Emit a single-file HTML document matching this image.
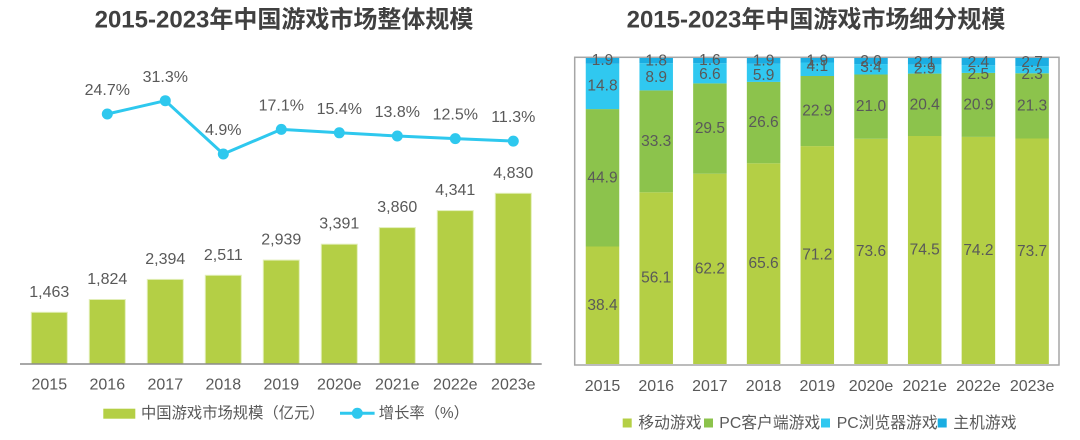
<!DOCTYPE html>
<html>
<head>
<meta charset="utf-8">
<style>
html,body{margin:0;padding:0;background:#fff;}
svg{display:block;}
text{font-family:"Liberation Sans","Noto Sans CJK SC",sans-serif;fill:#595959;dominant-baseline:central;}
.t{font-weight:bold;fill:#404040;font-size:24px;font-family:"Liberation Sans","Noto Sans CJK SC",sans-serif;}
.v{font-size:16px;text-anchor:middle;}
.s{font-size:15.5px;text-anchor:middle;}
</style>
</head>
<body>
<svg width="1080" height="440" viewBox="0 0 1080 440" xmlns="http://www.w3.org/2000/svg">
<!-- Titles -->
<text class="t" x="284" y="20" text-anchor="middle">2015-2023年中国游戏市场整体规模</text>
<text class="t" x="816" y="20" text-anchor="middle">2015-2023年中国游戏市场细分规模</text>

<!-- LEFT CHART -->
<g fill="#b4cf45" stroke="#e2eeb8" stroke-width="1">
<rect x="31.3" y="312.3" width="36" height="51.7"/>
<rect x="89.3" y="299.5" width="36" height="64.5"/>
<rect x="147.3" y="279.4" width="36" height="84.6"/>
<rect x="205.3" y="275.3" width="36" height="88.7"/>
<rect x="263.3" y="260.1" width="36" height="103.9"/>
<rect x="321.3" y="244.2" width="36" height="119.8"/>
<rect x="379.3" y="227.6" width="36" height="136.4"/>
<rect x="437.3" y="210.6" width="36" height="153.4"/>
<rect x="495.3" y="193.3" width="36" height="170.7"/>
</g>
<line x1="20" y1="364" x2="541.7" y2="364" stroke="#8c8c8c" stroke-width="1.5"/>
<g class="v">
<text class="v" x="49.3" y="292.3">1,463</text>
<text class="v" x="107.3" y="279.5">1,824</text>
<text class="v" x="165.3" y="259.4">2,394</text>
<text class="v" x="223.3" y="255.3">2,511</text>
<text class="v" x="281.3" y="240.1">2,939</text>
<text class="v" x="339.3" y="224.2">3,391</text>
<text class="v" x="397.3" y="207.6">3,860</text>
<text class="v" x="455.3" y="190.6">4,341</text>
<text class="v" x="513.3" y="173.3">4,830</text>
</g>
<!-- growth line -->
<polyline points="107.3,114 165.3,100.7 223.3,154 281.3,129.4 339.3,132.8 397.3,136 455.3,138.6 513.3,141.1" fill="none" stroke="#2ec8ee" stroke-width="3" stroke-linejoin="round"/>
<g fill="#2ec8ee">
<circle cx="107.3" cy="114" r="5.5"/>
<circle cx="165.3" cy="100.7" r="5.5"/>
<circle cx="223.3" cy="154" r="5.5"/>
<circle cx="281.3" cy="129.4" r="5.5"/>
<circle cx="339.3" cy="132.8" r="5.5"/>
<circle cx="397.3" cy="136" r="5.5"/>
<circle cx="455.3" cy="138.6" r="5.5"/>
<circle cx="513.3" cy="141.1" r="5.5"/>
</g>
<text class="v" x="107.3" y="90.6">24.7%</text>
<text class="v" x="165.3" y="77.3">31.3%</text>
<text class="v" x="223.3" y="130.6">4.9%</text>
<text class="v" x="281.3" y="106">17.1%</text>
<text class="v" x="339.3" y="109.3">15.4%</text>
<text class="v" x="397.3" y="112.6">13.8%</text>
<text class="v" x="455.3" y="115.1">12.5%</text>
<text class="v" x="513.3" y="117.6">11.3%</text>
<!-- x labels left -->
<text class="v" x="49.3" y="385">2015</text>
<text class="v" x="107.3" y="385">2016</text>
<text class="v" x="165.3" y="385">2017</text>
<text class="v" x="223.3" y="385">2018</text>
<text class="v" x="281.3" y="385">2019</text>
<text class="v" x="339.3" y="385">2020e</text>
<text class="v" x="397.3" y="385">2021e</text>
<text class="v" x="455.3" y="385">2022e</text>
<text class="v" x="513.3" y="385">2023e</text>
<!-- legend left -->
<rect x="103.3" y="408.7" width="32" height="10" fill="#b4cf45"/>
<text x="141" y="413.3" style="font-size:15.3px">中国游戏市场规模（亿元）</text>
<line x1="340" y1="413.3" x2="374.6" y2="413.3" stroke="#2ec8ee" stroke-width="3"/>
<circle cx="357.3" cy="413.3" r="5.5" fill="#2ec8ee"/>
<text x="378.8" y="413.3" style="font-size:15.3px">增长率（%）</text>

<!-- RIGHT CHART -->
<rect x="574.7" y="57.3" width="484.3" height="307.7" fill="none" stroke="#a6a6a6" stroke-width="1.5"/>
<!-- mobile -->
<g fill="#b4cf45">
<rect x="585.75" y="246.5" width="33.5" height="117.5"/>
<rect x="639.45" y="192.3" width="33.5" height="171.7"/>
<rect x="693.15" y="173.7" width="33.5" height="190.3"/>
<rect x="746.85" y="163.3" width="33.5" height="200.7"/>
<rect x="800.55" y="146.1" width="33.5" height="217.9"/>
<rect x="854.25" y="138.8" width="33.5" height="225.2"/>
<rect x="907.95" y="136.0" width="33.5" height="228.0"/>
<rect x="961.65" y="136.9" width="33.5" height="227.1"/>
<rect x="1015.35" y="138.5" width="33.5" height="225.5"/>
</g>
<!-- PC client -->
<g fill="#8cc34c">
<rect x="585.75" y="109.1" width="33.5" height="137.4"/>
<rect x="639.45" y="90.4" width="33.5" height="101.9"/>
<rect x="693.15" y="83.4" width="33.5" height="90.3"/>
<rect x="746.85" y="81.9" width="33.5" height="81.4"/>
<rect x="800.55" y="76.0" width="33.5" height="70.1"/>
<rect x="854.25" y="74.5" width="33.5" height="64.3"/>
<rect x="907.95" y="73.6" width="33.5" height="62.4"/>
<rect x="961.65" y="72.9" width="33.5" height="64.0"/>
<rect x="1015.35" y="73.3" width="33.5" height="65.2"/>
</g>
<!-- PC browser -->
<g fill="#30c8f0">
<rect x="585.75" y="63.8" width="33.5" height="45.3"/>
<rect x="639.45" y="63.2" width="33.5" height="27.2"/>
<rect x="693.15" y="63.2" width="33.5" height="20.2"/>
<rect x="746.85" y="63.8" width="33.5" height="18.1"/>
<rect x="800.55" y="62.5" width="33.5" height="13.5"/>
<rect x="854.25" y="64.1" width="33.5" height="10.4"/>
<rect x="907.95" y="64.7" width="33.5" height="8.9"/>
<rect x="961.65" y="65.3" width="33.5" height="7.6"/>
<rect x="1015.35" y="66.3" width="33.5" height="7.0"/>
</g>
<!-- console -->
<g fill="#1aade2">
<rect x="585.75" y="58" width="33.5" height="5.8"/>
<rect x="639.45" y="58" width="33.5" height="5.2"/>
<rect x="693.15" y="58" width="33.5" height="5.2"/>
<rect x="746.85" y="58" width="33.5" height="5.8"/>
<rect x="800.55" y="58" width="33.5" height="4.5"/>
<rect x="854.25" y="58" width="33.5" height="6.1"/>
<rect x="907.95" y="58" width="33.5" height="6.7"/>
<rect x="961.65" y="58" width="33.5" height="7.3"/>
<rect x="1015.35" y="58" width="33.5" height="8.3"/>
</g>
<!-- segment labels -->
<text class="s" x="602.5" y="305.3">38.4</text>
<text class="s" x="602.5" y="177.8">44.9</text>
<text class="s" x="602.5" y="86.2">14.8</text>
<text class="s" x="602.5" y="60.7">1.9</text>

<text class="s" x="656.2" y="278.2">56.1</text>
<text class="s" x="656.2" y="141.4">33.3</text>
<text class="s" x="656.2" y="77.3">8.9</text>
<text class="s" x="656.2" y="61">1.8</text>

<text class="s" x="709.9" y="268.9">62.2</text>
<text class="s" x="709.9" y="128.5">29.5</text>
<text class="s" x="709.9" y="74.3">6.6</text>
<text class="s" x="709.9" y="60.5">1.6</text>

<text class="s" x="763.6" y="263.7">65.6</text>
<text class="s" x="763.6" y="122.6">26.6</text>
<text class="s" x="763.6" y="75.5">5.9</text>
<text class="s" x="763.6" y="61">1.9</text>

<text class="s" x="817.3" y="255.1">71.2</text>
<text class="s" x="817.3" y="111">22.9</text>
<text class="s" x="817.3" y="66.7">4.1</text>
<text class="s" x="817.3" y="61">1.9</text>

<text class="s" x="871" y="251.4">73.6</text>
<text class="s" x="871" y="106.7">21.0</text>
<text class="s" x="871" y="67.7">3.4</text>
<text class="s" x="871" y="61.7">2.0</text>

<text class="s" x="924.7" y="250">74.5</text>
<text class="s" x="924.7" y="104.8">20.4</text>
<text class="s" x="924.7" y="69">2.9</text>
<text class="s" x="924.7" y="62.3">2.1</text>

<text class="s" x="978.4" y="250.5">74.2</text>
<text class="s" x="978.4" y="104.9">20.9</text>
<text class="s" x="978.4" y="74.3">2.5</text>
<text class="s" x="978.4" y="62.3">2.4</text>

<text class="s" x="1032.1" y="251.3">73.7</text>
<text class="s" x="1032.1" y="105.9">21.3</text>
<text class="s" x="1032.1" y="74.3">2.3</text>
<text class="s" x="1032.1" y="62.7">2.7</text>

<!-- x labels right -->
<text class="v" x="602.5" y="386.7">2015</text>
<text class="v" x="656.2" y="386.7">2016</text>
<text class="v" x="709.9" y="386.7">2017</text>
<text class="v" x="763.6" y="386.7">2018</text>
<text class="v" x="817.3" y="386.7">2019</text>
<text class="v" x="871" y="386.7">2020e</text>
<text class="v" x="924.7" y="386.7">2021e</text>
<text class="v" x="978.4" y="386.7">2022e</text>
<text class="v" x="1032.1" y="386.7">2023e</text>

<!-- legend right -->
<rect x="622.7" y="418.5" width="9" height="9" fill="#b4cf45"/>
<text x="638.3" y="423.3" style="font-size:15.8px">移动游戏</text>
<rect x="704" y="418.5" width="9" height="9" fill="#8cc34c"/>
<text x="719.3" y="423.3" style="font-size:15.8px">PC客户端游戏</text>
<rect x="821" y="418.5" width="9" height="9" fill="#30c8f0"/>
<text x="836.7" y="423.3" style="font-size:15.8px">PC浏览器游戏</text>
<rect x="937.7" y="418.5" width="9" height="9" fill="#1aade2"/>
<text x="953.3" y="423.3" style="font-size:15.8px">主机游戏</text>
</svg>
</body>
</html>
